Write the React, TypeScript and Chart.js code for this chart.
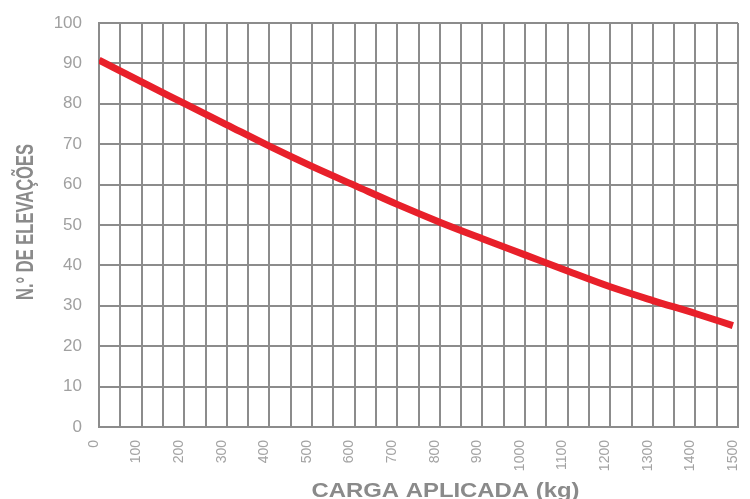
import React, { useEffect, useRef } from "react";
import { Chart, registerables } from "chart.js";

Chart.register(...registerables);

const loadKg = [0, 100, 200, 300, 400, 500, 600, 700, 800, 900, 1000, 1100, 1200, 1300, 1400, 1488];
const elevations = [90.8, 85.4, 80.1, 74.8, 69.5, 64.5, 59.8, 55.1, 50.7, 46.6, 42.6, 38.6, 34.7, 31.3, 28.1, 25.1];
const xTickLabels = ["0", "100", "200", "300", "400", "500", "600", "700", "800", "900", "1000", "1100", "1200", "1300", "1400", "1500"];
const yTickValues = [0, 10, 20, 30, 40, 50, 60, 70, 80, 90, 100];
const xTitle = "CARGA APLICADA (kg)";
const yTitle = "N.° DE ELEVAÇÕES";

const titlesPlugin = {
  id: "stretchedTitles",
  afterDraw(chart: any) {
    const ctx = chart.ctx as CanvasRenderingContext2D;
    ctx.save();
    ctx.font = "bold 19.5px 'Liberation Sans', Arial, sans-serif";
    ctx.fillStyle = "#8a8a8a";
    ctx.textBaseline = "alphabetic";
    ctx.textAlign = "center";
    const wx = ctx.measureText(xTitle).width;
    ctx.translate(445.5, 496.5);
    ctx.scale(268 / wx, 1);
    ctx.fillText(xTitle, 0, 0);
    ctx.restore();

    ctx.save();
    ctx.font = "bold 23.5px 'Liberation Sans', Arial, sans-serif";
    ctx.fillStyle = "#8a8a8a";
    ctx.textBaseline = "alphabetic";
    ctx.textAlign = "center";
    const wy = ctx.measureText(yTitle).width;
    ctx.translate(33, 222);
    ctx.rotate(-Math.PI / 2);
    ctx.scale(156 / wy, 1);
    ctx.fillText(yTitle, 0, 0);
    ctx.restore();
  },
};

function zeroPadding(scale: any) {
  scale.paddingLeft = 0;
  scale.paddingRight = 0;
  scale.paddingTop = 0;
  scale.paddingBottom = 0;
}

export default function App() {
  const ref = useRef<HTMLCanvasElement | null>(null);
  useEffect(() => {
    if (!ref.current) return;
    const chart = new Chart(ref.current, {
      type: "line",
      data: {
        datasets: [
          {
            data: loadKg.map((x, i) => ({ x, y: elevations[i] })),
            borderColor: "#e8202a",
            borderWidth: 7,
            borderCapStyle: "butt",
            pointRadius: 0,
            cubicInterpolationMode: "monotone",
            fill: false,
          },
        ],
      },
      options: {
        animation: false,
        responsive: false,
        layout: { padding: { left: 0, right: 12, top: 23, bottom: 0 } },
        plugins: { legend: { display: false }, tooltip: { enabled: false } },
        scales: {
          x: {
            type: "linear",
            min: 0,
            max: 1500,
            afterFit(scale: any) {
              scale.height = 72;
              zeroPadding(scale);
            },
            grid: { color: "#8c8c8c", lineWidth: 2, drawTicks: false },
            border: { color: "#8c8c8c", width: 2 },
            ticks: {
              stepSize: 50,
              autoSkip: false,
              minRotation: 90,
              maxRotation: 90,
              padding: 13,
              labelOffset: -5,
              color: "#a3a3a3",
              font: { family: "'Liberation Sans', Arial, sans-serif", size: 14 },
              callback: (v: any) => {
                const idx = Number(v) / 100;
                return Number.isInteger(idx) ? xTickLabels[idx] : "";
              },
            },
          },
          y: {
            min: 0,
            max: 100,
            afterFit(scale: any) {
              scale.width = 99;
              zeroPadding(scale);
            },
            grid: { color: "#8c8c8c", lineWidth: 2, drawTicks: false },
            border: { color: "#8c8c8c", width: 2 },
            afterBuildTicks(scale: any) {
              scale.ticks = yTickValues.map((value) => ({ value }));
            },
            ticks: {
              padding: 17,
              color: "#a0a0a0",
              font: { family: "'Liberation Sans', Arial, sans-serif", size: 17 },
            },
          },
        },
      },
      plugins: [titlesPlugin],
    } as any);
    return () => chart.destroy();
  }, []);
  return (
    <div style={{ position: "absolute", left: 0, top: 0, width: 750, height: 499, background: "#fff" }}>
      <canvas ref={ref} width={750} height={499} />
    </div>
  );
}
